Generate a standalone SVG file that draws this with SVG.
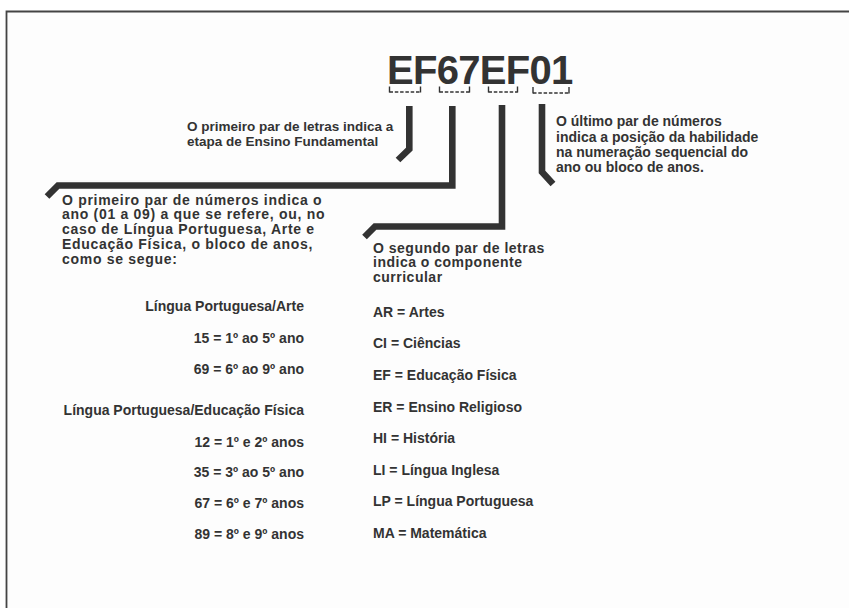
<svg xmlns="http://www.w3.org/2000/svg" width="849" height="608" viewBox="0 0 849 608">
  <style>
    text { font-family: "Liberation Sans", Arial, sans-serif; font-weight: bold; fill: #333333; font-size: 14px; }
    .title { font-size: 40px; letter-spacing: -0.7px; }
    .b1 { font-size: 13.5px; }
    .b2 { letter-spacing: 0.7px; }
    .b3 { letter-spacing: 0.5px; }
    .r { text-anchor: end; }
    .conn { fill: none; stroke: #333333; stroke-width: 6.6; stroke-linejoin: miter; stroke-linecap: butt; }
    .brk { fill: none; stroke: #333333; stroke-width: 1.4; }
    .dash { stroke-dasharray: 3.5 1.8; }
  </style>
  <rect x="0" y="0" width="849" height="608" fill="#ffffff"/>
  <rect x="6" y="11" width="843" height="597" fill="#fdfdfd"/>
  <path d="M6.5,608 V11.5 H849" fill="none" stroke="#444444" stroke-width="1.8"/>

  <g id="title">
    <text class="title" x="387" y="84">EF67EF01</text>
  </g>

  <g id="brackets">
    <g id="bracket-ef1">
      <path class="brk dash" d="M389.5,92 H420.5"/>
      <path class="brk" d="M389.5,86.5 V92.5 M420.5,86.5 V92.5"/>
    </g>
    <g id="bracket-67">
      <path class="brk dash" d="M439.5,92 H469.5"/>
      <path class="brk" d="M439.5,86.5 V92.5 M469.5,86.5 V92.5"/>
    </g>
    <g id="bracket-ef2">
      <path class="brk dash" d="M488.5,92 H517.5"/>
      <path class="brk" d="M488.5,86.5 V92.5 M517.5,86.5 V92.5"/>
    </g>
    <g id="bracket-01">
      <path class="brk dash" d="M533,93 H569"/>
      <path class="brk" d="M533,87 V93.5 M569,87 V93.5"/>
    </g>
  </g>

  <g id="connectors">
    <path class="conn" d="M409.3,106 V149 L398,160"/>
    <path class="conn" d="M452.3,106 V185.5 H58 L47,196.5"/>
    <path class="conn" d="M502,105 V226.5 H375 L364.5,237"/>
    <path class="conn" d="M542,104 V172 L553,184"/>
  </g>

  <g id="node-etapa">
    <text class="b1" x="187" y="131">O primeiro par de letras indica a</text>
    <text class="b1" x="187" y="146">etapa de Ensino Fundamental</text>
  </g>

  <g id="node-ultimo">
    <text x="556" y="125.5">O último par de números</text>
    <text x="556" y="141.5">indica a posição da habilidade</text>
    <text x="556" y="157">na numeração sequencial do</text>
    <text x="556" y="172">ano ou bloco de anos.</text>
  </g>

  <g id="node-ano">
    <text class="b2" x="62" y="204.5">O primeiro par de números indica o</text>
    <text class="b2" x="62" y="219">ano (01 a 09) a que se refere, ou, no</text>
    <text class="b2" x="62" y="233.5">caso de Língua Portuguesa, Arte e</text>
    <text class="b2" x="62" y="248.5">Educação Física, o bloco de anos,</text>
    <text class="b2" x="62" y="263.5">como se segue:</text>
  </g>

  <g id="node-componente">
    <text class="b3" x="373" y="252.5">O segundo par de letras</text>
    <text class="b3" x="373" y="267">indica o componente</text>
    <text class="b3" x="373" y="281.5">curricular</text>
  </g>

  <g id="list-anos">
    <text class="r" x="304" y="311">Língua Portuguesa/Arte</text>
    <text class="r" x="304" y="343">15 = 1º ao 5º ano</text>
    <text class="r" x="304" y="373.5">69 = 6º ao 9º ano</text>
    <text class="r" x="304" y="415">Língua Portuguesa/Educação Física</text>
    <text class="r" x="304" y="446.5">12 = 1º e 2º anos</text>
    <text class="r" x="304" y="477">35 = 3º ao 5º ano</text>
    <text class="r" x="304" y="508">67 = 6º e 7º anos</text>
    <text class="r" x="304" y="538.5">89 = 8º e 9º anos</text>
  </g>

  <g id="list-componentes">
    <text x="373" y="316.5">AR = Artes</text>
    <text x="373" y="347.5">CI = Ciências</text>
    <text x="373" y="380">EF = Educação Física</text>
    <text x="373" y="411.5">ER = Ensino Religioso</text>
    <text x="373" y="443">HI = História</text>
    <text x="373" y="475">LI = Língua Inglesa</text>
    <text x="373" y="506">LP = Língua Portuguesa</text>
    <text x="373" y="538">MA = Matemática</text>
  </g>
</svg>
